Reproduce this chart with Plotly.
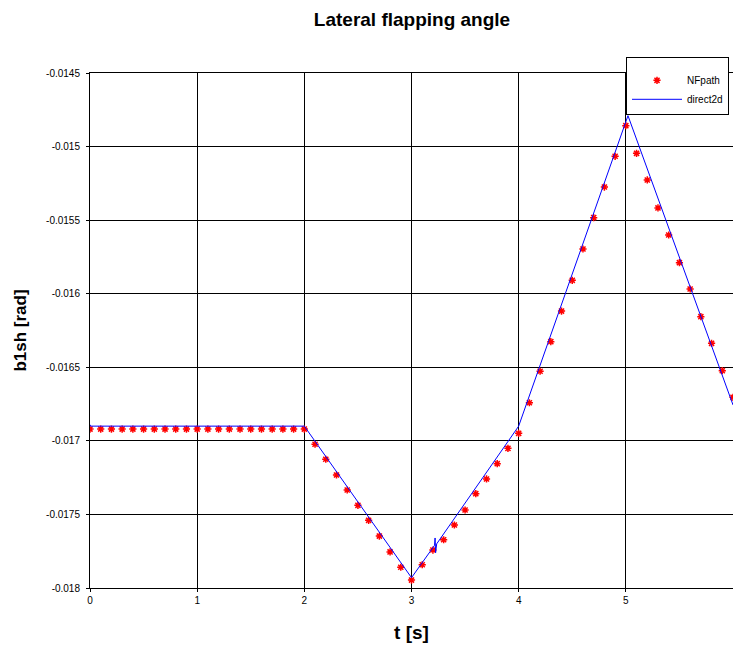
import plotly.graph_objects as go

# ---------------- data ----------------
nf_t = [round(0.1 * i, 1) for i in range(61)]
nf_vals = [
    -0.01692, -0.01692, -0.01692, -0.01692, -0.01692, -0.01692, -0.01692,
    -0.01692, -0.01692, -0.01692, -0.01692, -0.01692, -0.01692, -0.01692,
    -0.01692, -0.01692, -0.01692, -0.01692, -0.01692, -0.01692, -0.01692,
    -0.017023, -0.017125, -0.017232, -0.017334, -0.017438, -0.01754,
    -0.017647, -0.017755, -0.017859, -0.017946,
    -0.017842, -0.017742, -0.017672, -0.017572, -0.01747, -0.017359,
    -0.017259, -0.017155, -0.017051, -0.016949,
    -0.016741, -0.016527, -0.016326, -0.016118, -0.015909, -0.015696,
    -0.015483, -0.015275, -0.015066, -0.014858,
    -0.015046, -0.015227, -0.015417, -0.015601, -0.015789, -0.015968,
    -0.016156, -0.016337, -0.016523, -0.016704,
]

d2d_t = [0.0, 0.005, 2.0, 3.0, 3.215, 3.22, 3.225, 3.235, 4.0, 5.02, 6.0]
d2d_vals = [-0.01689, -0.0169, -0.0169, -0.01793, -0.01771, -0.01766,
            -0.01776, -0.01770, -0.0169, -0.01479, -0.016756]

x_ticks = [0, 1, 2, 3, 4, 5, 6]
y_ticks = [-0.0145, -0.015, -0.0155, -0.016, -0.0165, -0.017, -0.0175, -0.018]
y_tick_text = ["-0.0145", "-0.015", "-0.0155", "-0.016", "-0.0165",
               "-0.017", "-0.0175", "-0.018"]

FONT = "Liberation Sans, Arial, sans-serif"
W, H = 733, 647

fig = go.Figure()
fig.add_trace(go.Scatter(
    x=nf_t, y=nf_vals, mode="markers", name="NFpath",
    marker=dict(symbol="asterisk-open", size=6, color="red",
                line=dict(color="red", width=1.5)),
))
fig.add_trace(go.Scatter(
    x=d2d_t, y=d2d_vals, mode="lines", name="direct2d",
    line=dict(color="#0000ff", width=1),
))

fig.update_layout(
    width=W, height=H,
    margin=dict(l=90, r=0, t=73, b=59),
    paper_bgcolor="white", plot_bgcolor="white",
    font=dict(family=FONT, size=10, color="black"),
    title=dict(text="<b>Lateral flapping angle</b>", x=412 / W, xanchor="center",
               y=1 - 19 / H, yanchor="middle", yref="container",
               font=dict(size=19, family=FONT, color="black")),
    showlegend=True,
    legend=dict(x=(626 - 90) / 643, y=1 + 16 / 515, xanchor="left", yanchor="top",
                bordercolor="black", borderwidth=1, bgcolor="white",
                font=dict(size=10, family=FONT, color="black"),
                title=dict(text="&nbsp;", font=dict(size=6)),
                itemwidth=50, tracegroupgap=0),
)
fig.update_xaxes(
    range=[0, 6], tickvals=x_ticks, ticktext=[str(v) for v in x_ticks],
    showgrid=True, gridcolor="black", gridwidth=1,
    showline=True, linecolor="black", linewidth=1, mirror=True,
    ticks="outside", ticklen=3, tickcolor="black",
    zeroline=False, automargin=False,
    tickfont=dict(size=10, family=FONT, color="black"),
    title=dict(text="<b>t [s]</b>", font=dict(size=19, family=FONT, color="black"),
               standoff=20),
)
fig.update_yaxes(
    range=[-0.018, -0.0145], tickvals=y_ticks, ticktext=y_tick_text,
    showgrid=True, gridcolor="black", gridwidth=1,
    showline=True, linecolor="black", linewidth=1, mirror=True,
    ticks="outside", ticklen=3, tickcolor="black", ticklabelstandoff=4,
    zeroline=False, automargin=False,
    tickfont=dict(size=10, family=FONT, color="black"),
    title=dict(text="<b>b1sh [rad]</b>", font=dict(size=17, family=FONT, color="black"),
               standoff=15),
)

fig.write_html("out.html", config={"displayModeBar": False},
               post_script="document.body.style.margin='0';document.body.style.overflow='hidden';")
